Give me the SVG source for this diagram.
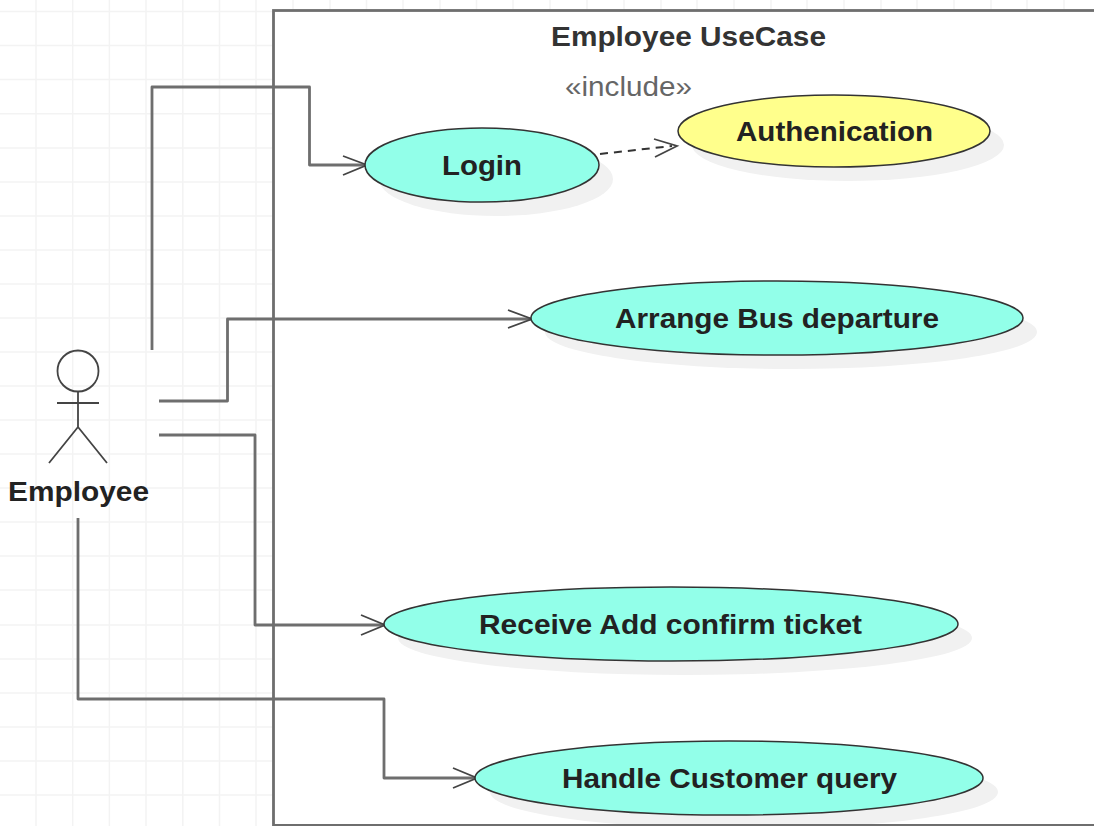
<svg xmlns="http://www.w3.org/2000/svg" width="1094" height="826" viewBox="0 0 1094 826">
<style>
.grid{stroke:#f3f3f3;stroke-width:1.5;fill:none}
.conn{stroke:#6e6e6e;stroke-width:2.8;fill:none;stroke-linejoin:round}
.head{stroke:#444;stroke-width:1.8;fill:none}
.uc{stroke:#333;stroke-width:1.5}
.teal{fill:#92ffe9}
.yel{fill:#ffff8c}
.sh{fill:#f1f1f1}
text{font-family:"Liberation Sans",Arial,sans-serif;fill:#222;text-anchor:middle;font-size:27px}
.b{font-weight:bold}
.actor{stroke:#444;stroke-width:1.8;fill:none}
</style>
<rect width="1094" height="826" fill="#fff"/>
<g id="grid">
<path class="grid" d="M36 0V826M72.700 0V826M109.400 0V826M146 0V826M182.800 0V826M219.500 0V826M256 0V826M293 0V10M330 0V10M366.500 0V10M403 0V10M440 0V10M476.500 0V10M513 0V10M550 0V10M587 0V10M624 0V10M661 0V10M697 0V10M734 0V10M771 0V10M807 0V10M844 0V10M881 0V10M917 0V10M954 0V10M991 0V10M1027 0V10M1064 0V10"/>
<path class="grid" d="M0 11.500H272M0 45.500H272M0 79.500H272M0 113.800H272M0 148H272M0 182H272M0 216H272M0 250H272M0 284H272M0 318H272M0 352H272M0 386H272M0 420H272M0 454H272M0 488H272M0 522H272M0 556H272M0 590H272M0 625H272M0 659H272M0 693H272M0 727H272M0 761H272M0 795H272"/>
</g>
<g id="system-boundary">
<rect x="273.500" y="10.500" width="830" height="815" fill="#fff" stroke="#6e6e6e" stroke-width="2.8"/>
<text class="b" x="688.500" y="46" textLength="275" lengthAdjust="spacingAndGlyphs" style="fill:#333">Employee UseCase</text>
</g>
<g id="connectors">
<path class="conn" d="M152 350V87H309.500V165H365"/>
<path class="conn" d="M159 401H227.500V319H531"/>
<path class="conn" d="M159 435H255V625H385"/>
<path class="conn" d="M78 518V699H384V778H476"/>
<path class="head" d="M343 156L367 165L343 175"/>
<path class="head" d="M508 310L532 319L508 328"/>
<path class="head" d="M361 615L385 625L361 635"/>
<path class="head" d="M453 768L477 778L453 788"/>
<path d="M600 154L672 146" stroke="#333" stroke-width="2" stroke-dasharray="8 6" fill="none"/>
<path class="head" d="M654 139L677 146L655 157"/>
<text x="628.500" y="96" textLength="127" lengthAdjust="spacingAndGlyphs" style="fill:#666">«include»</text>
</g>
<g id="login">
<ellipse class="sh" cx="496" cy="179" rx="117" ry="37"/>
<ellipse class="uc teal" cx="482" cy="165" rx="117" ry="37"/>
<text class="b" x="482" y="175" textLength="80" lengthAdjust="spacingAndGlyphs">Login</text>
</g>
<g id="authentication">
<ellipse class="sh" cx="848" cy="145" rx="156" ry="36"/>
<ellipse class="uc yel" cx="834" cy="131" rx="156" ry="36"/>
<text class="b" x="834.500" y="141" textLength="197" lengthAdjust="spacingAndGlyphs">Authenication</text>
</g>
<g id="arrange">
<ellipse class="sh" cx="791" cy="332" rx="246" ry="37"/>
<ellipse class="uc teal" cx="777" cy="318" rx="246" ry="37"/>
<text class="b" x="777" y="328" textLength="324" lengthAdjust="spacingAndGlyphs">Arrange Bus departure</text>
</g>
<g id="receive">
<ellipse class="sh" cx="685" cy="638" rx="287" ry="37"/>
<ellipse class="uc teal" cx="671" cy="624" rx="287" ry="37"/>
<text class="b" x="670.500" y="634" textLength="383" lengthAdjust="spacingAndGlyphs">Receive Add confirm ticket</text>
</g>
<g id="handle">
<ellipse class="sh" cx="744" cy="792" rx="254" ry="37"/>
<path d="M273 825.500H1094" stroke="#6e6e6e" stroke-width="2.800" fill="none"/>
<ellipse class="uc teal" cx="729" cy="778" rx="254" ry="37"/>
<text class="b" x="729.500" y="788" textLength="335" lengthAdjust="spacingAndGlyphs">Handle Customer query</text>
</g>
<g id="employee">
<circle class="actor" cx="78" cy="371" r="20.500"/>
<path class="actor" d="M78 391V427M57 403H99M78 427L49 463M78 427L107 463"/>
<text class="b" x="78.500" y="501" textLength="141" lengthAdjust="spacingAndGlyphs">Employee</text>
</g>
</svg>
